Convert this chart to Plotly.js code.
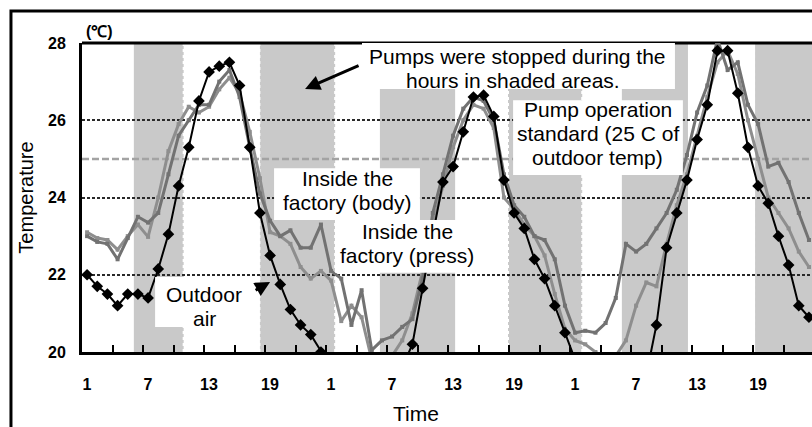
<!DOCTYPE html>
<html>
<head>
<meta charset="utf-8">
<script src="https://cdn.plot.ly/plotly-3.0.1.min.js"></script>
<style>html,body{margin:0;padding:0;background:#fff;}#chart{width:812px;height:427px;}</style>
</head>
<body>
<div id="chart"></div>
<script>
// ---- data ----
const hours = [1,2,3,4,5,6,7,8,9,10,11,12,13,14,15,16,17,18,19,20,21,22,23,24,
  25,26,27,28,29,30,31,32,33,34,35,36,37,38,39,40,41,42,43,44,45,46,47,48,
  49,50,51,52,53,54,55,56,57,58,59,60,61,62,63,64,65,66,67,68,69,70,71,72];

const outdoorAir = [22.0,21.7,21.5,21.2,21.5,21.5,21.4,22.15,23.05,24.3,25.3,26.5,27.25,27.4,27.5,26.9,25.3,23.6,22.5,21.75,21.1,20.7,20.45,20.0,
  19.6,19.3,19.1,19.0,18.9,19.0,19.2,19.6,20.2,21.65,23.0,24.4,24.8,25.7,26.6,26.65,26.1,24.45,23.6,23.2,22.4,21.9,21.2,20.5,
  19.8,19.4,19.2,19.0,18.9,19.0,19.1,19.4,20.7,22.7,23.6,24.45,25.5,26.4,27.8,27.8,26.7,25.3,24.3,23.85,23.0,22.25,21.2,20.9];

const insideBody = [23.0,22.85,22.8,22.4,22.95,23.5,23.35,23.6,24.6,25.6,26.0,26.4,26.4,27.0,27.3,26.6,25.3,24.1,23.4,23.0,23.15,22.7,22.7,23.3,
  22.1,21.9,20.7,21.6,20.05,20.3,20.4,20.65,20.85,21.9,23.6,24.6,25.6,26.3,26.6,26.5,26.0,24.6,23.8,23.5,23.0,22.9,22.4,21.2,
  20.5,20.55,20.5,20.75,21.4,22.8,22.6,22.8,23.2,23.6,24.2,25.1,26.2,26.9,28.1,27.3,27.5,26.4,25.9,24.8,24.9,24.4,23.6,22.9];

const insidePress = [23.1,22.95,22.9,22.65,23.0,23.3,22.98,24.0,25.2,25.9,26.35,26.2,26.35,26.8,27.1,26.7,25.7,24.5,23.1,23.0,22.8,22.2,21.9,22.1,
  21.85,20.8,21.2,20.9,19.8,19.7,19.9,20.3,21.0,22.1,23.3,24.3,25.3,26.0,26.4,26.3,25.8,24.0,23.7,23.3,23.0,22.5,21.5,20.6,
  20.3,20.2,20.0,19.8,19.9,20.3,21.2,21.8,21.7,22.8,23.8,24.6,25.6,26.6,27.5,27.8,27.2,26.0,25.0,24.0,23.6,23.2,22.6,22.2];

// pump stopped periods (hours)
const stopStart = [5.6, 18.0, 29.8, 42.4, 53.6, 66.7];
const stopEnd   = [10.5, 25.4, 37.2, 49.7, 60.1, 73.0];
const dottedEdges = [10.5, 17.95, 25.4, 42.4, 49.7, 66.6];
const pumpStandard = 25;

const xTickVals = [0.5,3.5,6.5,9.5,12.5,15.5,18.5,21.5,24.5,27.5,30.5,33.5,36.5,39.5,42.5,45.5,48.5,51.5,54.5,57.5,60.5,63.5,66.5,69.5,72.5];
const xTickText = ['1','','7','','13','','19','','1','','7','','13','','19','','1','','7','','13','','19','',''];
const yTickVals = [20,22,24,26,28];
const yTickText = ['20','22','24','26','28'];

// ---- chart ----
const FONT = 'Arial, "Liberation Sans", sans-serif';

const traces = [
  {x: hours, y: insidePress, mode: 'lines+markers', line: {color: '#8e8e8e', width: 3},
   marker: {symbol: 'square', size: 4, color: '#8e8e8e'}, name: 'Inside the factory (press)'},
  {x: hours, y: insideBody, mode: 'lines+markers', line: {color: '#727272', width: 3},
   marker: {symbol: 'square', size: 4, color: '#727272'}, name: 'Inside the factory (body)'},
  {x: hours, y: outdoorAir, mode: 'lines+markers', line: {color: '#000', width: 2},
   marker: {symbol: 'diamond', size: 9, color: '#000'}, name: 'Outdoor air'}
];

const shapes = [];
for (let i = 0; i < stopStart.length; i++) {
  shapes.push({type: 'rect', xref: 'x', yref: 'paper', x0: stopStart[i], x1: stopEnd[i], y0: 0, y1: 1,
    fillcolor: '#c9c9c9', line: {width: 0}, layer: 'below'});
}
dottedEdges.forEach(function (e) {
  shapes.push({type: 'line', xref: 'x', yref: 'paper', x0: e, x1: e, y0: 0, y1: 1,
    line: {color: '#ffffff', width: 2, dash: 'dot'}, layer: 'below'});
});
shapes.push({type: 'line', xref: 'paper', yref: 'y', x0: 0, x1: 1, y0: pumpStandard, y1: pumpStandard,
  line: {color: '#a3a3a3', width: 2.5, dash: '7px,3px'}, layer: 'between'});
shapes.push({type: 'line', xref: 'paper', yref: 'paper', x0: 0, x1: 1, y0: 1, y1: 1,
  line: {color: '#000', width: 3}, layer: 'between'});

// white label boxes [x0,x1,y0,y1] in data units
const boxes = [
  [28.04, 58.82, 26.81, 28.0],
  [42.9, 59.6, 24.58, 26.52],
  [19.39, 33.74, 23.42, 24.76],
  [25.39, 39.35, 22.05, 23.42],
  [7.69, 17.32, 20.65, 21.94]
];
boxes.forEach(function (b) {
  shapes.push({type: 'rect', xref: 'x', yref: 'y', x0: b[0], x1: b[1], y0: b[2], y1: b[3],
    fillcolor: '#ffffff', line: {width: 0}, layer: 'above'});
});
// outer frame
shapes.push({type: 'rect', xref: 'paper', yref: 'paper', x0: -0.0973, x1: 1.01, y0: -0.26, y1: 1.1036,
  fillcolor: 'rgba(0,0,0,0)', line: {color: '#000', width: 3}, layer: 'above'});

function lbl(text, x, y) {
  return {text: text, x: x, y: y, xref: 'x', yref: 'y', showarrow: false, xanchor: 'center', yanchor: 'middle',
    borderpad: 0, font: {family: FONT, size: 21, color: '#000'}};
}

const annotations = [
  lbl('Pumps were stopped during the', 43.3, 27.646),
  lbl('hours in shaded areas.', 42.9, 27.024),
  lbl('Pump operation', 51.25, 26.266),
  lbl('standard (25 C of', 51.25, 25.645),
  lbl('outdoor temp)', 51.25, 25.024),
  lbl('Inside the', 26.57, 24.48),
  lbl('factory (body)', 26.57, 23.86),
  lbl('Inside the', 32.47, 23.13),
  lbl('factory (press)', 32.47, 22.51),
  lbl('Outdoor', 12.5, 21.50),
  lbl('air', 12.5, 20.88),
  {text: '', x: 22.44, y: 26.81, xref: 'x', yref: 'y', showarrow: true, ax: 55, ay: -24,
   arrowhead: 2, arrowsize: 1, arrowwidth: 3, arrowcolor: '#000'},
  {text: '', x: 19.0, y: 21.81, xref: 'x', yref: 'y', showarrow: true, ax: -16, ay: 9,
   arrowhead: 2, arrowsize: 1, arrowwidth: 3, arrowcolor: '#000'},
  {text: '(℃)', x: 0.0233, y: 1.0356, xref: 'paper', yref: 'paper', showarrow: false,
   xanchor: 'center', yanchor: 'middle', font: {family: FONT, size: 16, color: '#000', weight: 'bold'}},
  {text: 'Time', x: 0.457, y: -0.2006, xref: 'paper', yref: 'paper', showarrow: false, borderpad: 0,
   xanchor: 'center', yanchor: 'middle', font: {family: FONT, size: 21, color: '#000'}}
];

const layout = {
  width: 812, height: 427,
  margin: {l: 82, r: 0, t: 43, b: 75, autoexpand: false},
  paper_bgcolor: '#fff', plot_bgcolor: '#fff',
  showlegend: false,
  font: {family: FONT, color: '#000'},
  xaxis: {
    range: [0.5, 72.3], tickmode: 'array', tickvals: xTickVals, ticktext: xTickText,
    ticks: 'inside', ticklen: 7, tickwidth: 2, tickcolor: '#000',
    showgrid: false, zeroline: false, showline: true, linecolor: '#000', linewidth: 3,
    tickfont: {family: FONT, size: 16, weight: 'bold', color: '#000'},
    ticklabelshift: 5, ticklabelstandoff: 16
  },
  yaxis: {
    range: [20, 28], tickmode: 'array', tickvals: yTickVals, ticktext: yTickText,
    ticks: '', showgrid: true, gridcolor: '#2a2a2a', gridwidth: 2, griddash: '3px,2px',
    zeroline: false, showline: true, linecolor: '#000', linewidth: 3,
    tickfont: {family: FONT, size: 16, weight: 'bold', color: '#000'},
    ticklabelstandoff: 10,
    title: {text: 'Temperature', font: {family: FONT, size: 20, color: '#000'}, standoff: 10}
  },
  shapes: shapes,
  annotations: annotations
};

Plotly.newPlot('chart', traces, layout, {staticPlot: true, displayModeBar: false});
</script>
</body>
</html>
